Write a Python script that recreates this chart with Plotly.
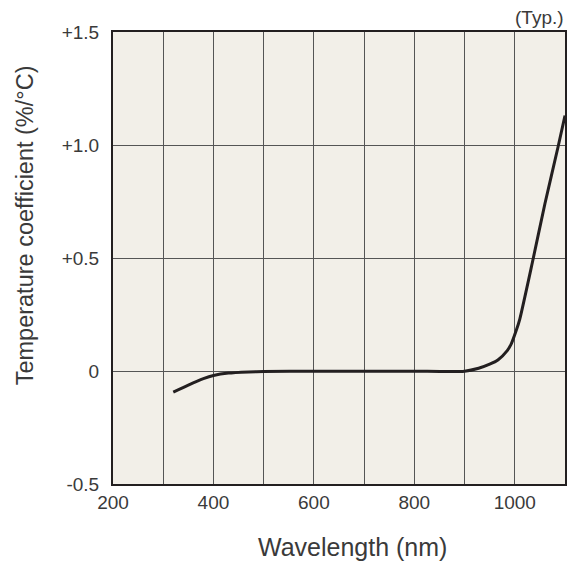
import plotly.graph_objects as go

wavelength = [320, 350, 380, 400, 430, 470, 500, 600, 700, 800, 900, 928, 950, 967, 985, 993, 1003, 1010, 1035, 1060, 1086, 1100]
coefficient = [-0.093, -0.062, -0.034, -0.02, -0.009, -0.004, -0.002, -0.001, -0.001, -0.001, -0.001, 0.012, 0.03, 0.05, 0.09, 0.12, 0.18, 0.23, 0.48, 0.74, 0.99, 1.13]

x_ticks = [200, 400, 600, 800, 1000]
y_ticks = [-0.5, 0, 0.5, 1.0, 1.5]
y_tick_labels = ["-0.5", "0", "+0.5", "+1.0", "+1.5"]

font_family = "Liberation Sans, Arial, sans-serif"
text_color = "#3a3a3a"

fig = go.Figure()
fig.add_trace(go.Scatter(
    x=wavelength, y=coefficient, mode="lines",
    line=dict(color="#231f20", width=3, shape="spline", smoothing=0.6),
    hoverinfo="skip", showlegend=False,
))

fig.update_layout(
    width=568, height=567,
    margin=dict(l=105, r=9, t=24, b=91),
    paper_bgcolor="white",
    plot_bgcolor="#f2efe8",
    font=dict(family=font_family, color=text_color, size=19),
    xaxis=dict(
        range=[200, 1100], tickvals=x_ticks, ticktext=[str(v) for v in x_ticks],
        showgrid=True, gridcolor="#555555", gridwidth=1,
        minor=dict(dtick=100, showgrid=True, gridcolor="#555555", gridwidth=1),
        showline=True, linecolor="#231f20", linewidth=2, mirror=True,
        zeroline=False, ticks="", tickfont=dict(size=19, color=text_color),
        fixedrange=True,
    ),
    yaxis=dict(
        range=[-0.5, 1.5], tickvals=y_ticks, ticktext=y_tick_labels,
        showgrid=True, gridcolor="#555555", gridwidth=1,
        showline=True, linecolor="#231f20", linewidth=2, mirror=True,
        zeroline=False, ticks="", tickfont=dict(size=19, color=text_color),
        ticklabelstandoff=8,
        fixedrange=True,
    ),
    annotations=[
        dict(text="(Typ.)", xref="paper", yref="paper", x=1.0, y=1.0,
             xanchor="right", yanchor="bottom", showarrow=False, yshift=2, xshift=1,
             font=dict(size=19, color=text_color)),
        dict(text="Wavelength (nm)", xref="paper", yref="paper", x=0.529, y=-0.139,
             xanchor="center", yanchor="middle", showarrow=False,
             font=dict(size=25, color=text_color)),
        dict(text="Temperature coefficient (%/°C)", xref="paper", yref="paper",
             x=-0.194, y=0.573, xanchor="center", yanchor="middle", textangle=-90,
             showarrow=False, font=dict(size=23.5, color=text_color)),
    ],
)

fig.write_html("out.html")
